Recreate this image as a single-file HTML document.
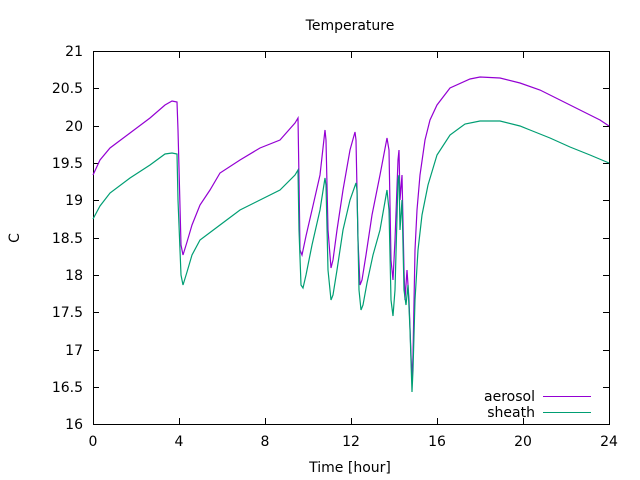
<!DOCTYPE html>
<html><head><meta charset="utf-8"><style>body{margin:0;background:#fff}svg{display:block}text{font-family:"DejaVu Sans","Liberation Sans",sans-serif;font-size:14px;fill:#000}</style></head><body>
<svg width="640" height="480" viewBox="0 0 640 480">
<g stroke="#000" stroke-width="1" fill="none">
<rect x="93.5" y="51.5" width="516" height="373"/>
<path d="M93.5 424v-6M179.5 424v-6M265.5 424v-6M351.5 424v-6M437.5 424v-6M523.5 424v-6M609.5 424v-6
M93.5 52v6M179.5 52v6M265.5 52v6M351.5 52v6M437.5 52v6M523.5 52v6M609.5 52v6
M93 424.5h6M93 387.5h6M93 350.5h6M93 312.5h6M93 275.5h6M93 238.5h6M93 200.5h6M93 163.5h6M93 126.5h6M93 88.5h6M93 51.5h6
M609 424.5h-6M609 387.5h-6M609 350.5h-6M609 312.5h-6M609 275.5h-6M609 238.5h-6M609 200.5h-6M609 163.5h-6M609 126.5h-6M609 88.5h-6"/>
</g>
<g text-anchor="end">
<text x="83" y="429">16</text><text x="83" y="392">16.5</text><text x="83" y="355">17</text><text x="83" y="317">17.5</text><text x="83" y="280">18</text><text x="83" y="243">18.5</text><text x="83" y="205">19</text><text x="83" y="168">19.5</text><text x="83" y="131">20</text><text x="83" y="93">20.5</text><text x="83" y="56">21</text>
</g>
<g text-anchor="middle">
<text x="93" y="446">0</text><text x="179" y="446">4</text><text x="265" y="446">8</text><text x="351" y="446">12</text><text x="437" y="446">16</text><text x="523" y="446">20</text><text x="609" y="446">24</text>
<text x="350" y="30">Temperature</text>
<text x="350" y="472">Time [hour]</text>
<text x="0" y="0" transform="translate(19,238) rotate(-90)">C</text>
</g>
<polyline fill="none" stroke="#9400d3" stroke-width="1.2" points="93,175 100,160 110,148 130,133 150,118 165,105 172,101 177,102 178,130 181,245 183,255 187,242 192,225 200,205 210,190 220,173 240,160 260,148 280,140 295,123 298,118 299,180 300,250 302,255 306,236 312,210 320,175 325,130 326,140 328,230 331,268 333,260 337,230 343,190 350,150 355,132 356,140 358,240 360,285 362,280 366,255 372,215 380,175 387,138 389,150 391,260 393,280 395,240 398,160 399,150 400,200 402,175 404,270 405,300 407,270 409,300 411,355 412,380 413,355 415,250 417,210 420,175 425,140 430,120 437,105 450,88 470,79 480,77 500,78 520,83 540,90 560,100 580,110 600,120 609,126"/>
<polyline fill="none" stroke="#009e73" stroke-width="1.2" points="93,219 100,206 110,193 130,178 150,165 165,154 172,153 177,154 178,200 181,275 183,285 187,272 192,255 200,240 220,225 240,210 260,200 280,190 295,175 298,170 299,230 301,285 303,288 306,275 312,245 320,210 325,178 326,185 328,270 331,300 333,295 337,270 343,230 350,200 356,183 357,190 359,290 361,310 363,305 367,283 373,255 380,230 387,190 389,210 391,300 393,316 395,290 398,180 399,175 400,230 402,200 404,290 406,305 408,285 410,330 412,392 413,370 415,300 418,250 422,215 428,185 437,155 450,135 465,124 480,121 500,121 520,126 530,130 550,138 570,147 590,155 609,163"/>
<text x="535" y="401" text-anchor="end">aerosol</text>
<line x1="543" y1="396.5" x2="591" y2="396.5" stroke="#9400d3"/>
<text x="535" y="417" text-anchor="end">sheath</text>
<line x1="543" y1="412.5" x2="591" y2="412.5" stroke="#009e73"/>
</svg>
</body></html>
